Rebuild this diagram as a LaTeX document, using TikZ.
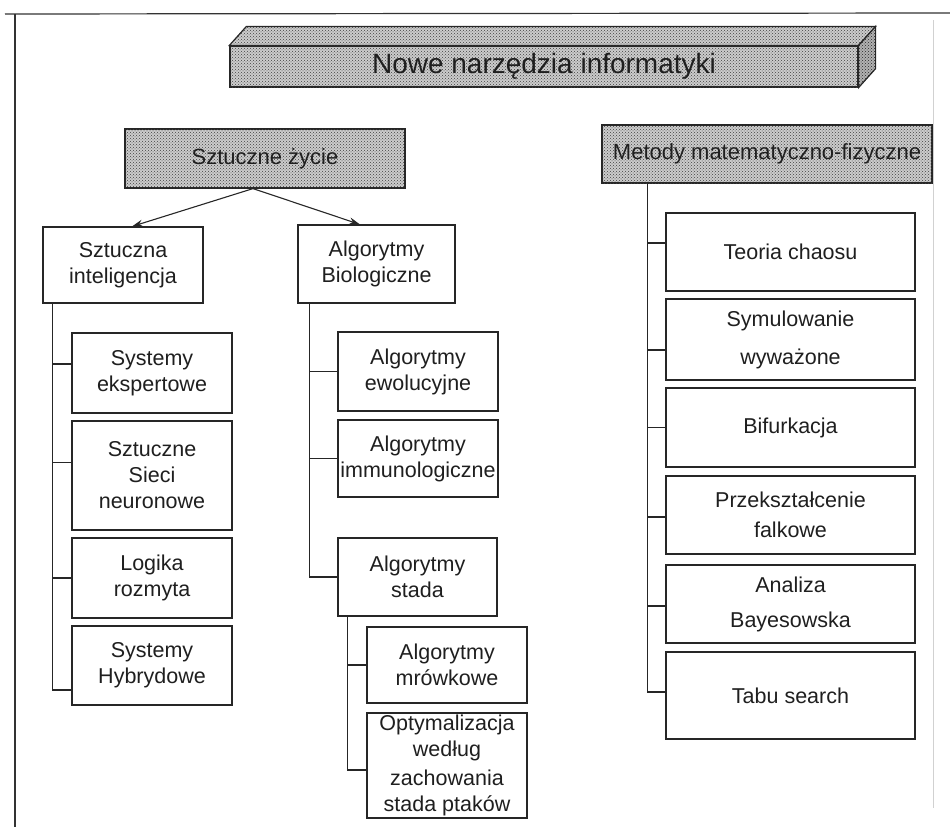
\documentclass[tikz,border=0pt]{standalone}
\usepackage{fontspec}
\setmainfont{Liberation Sans}
\usetikzlibrary{arrows.meta,patterns}
\begin{document}
\begin{tikzpicture}[x=1pt,y=-1pt,
  every node/.style={text=black!88},
  box/.style={draw=black!85, line width=1.1pt, fill=white, align=center,
    inner sep=0pt, font=\fontsize{21.5}{26}\selectfont},
  shaded/.style={draw=black!85, line width=1.2pt, fill=gray!40,
    postaction={pattern=crosshatch dots, pattern color=black!75},
    inner sep=0pt, font=\fontsize{22}{26}\selectfont},
  link/.style={draw=black!85, line width=1.1pt},
  arr/.style={link, -{Stealth[length=11pt,width=7pt]}},
  frame/.style={draw=black!80, line width=1.2pt}
]
\useasboundingbox (0,0) rectangle (950,827);

% page frame
\draw[frame] (5,14) -- (950,13);
\draw[frame] (15,14) -- (15,827);
\draw[black!18, line width=0.8pt] (933,20) -- (933,808);

% title bar drawn as a block
\node[shaded, minimum width=628pt, minimum height=41pt,
  font=\fontsize{28}{32}\selectfont] (title) at (544,66.5) {Nowe narzędzia informatyki};
\filldraw[draw=black!85, line width=1.2pt, fill=gray!40,
  postaction={pattern=crosshatch dots, pattern color=black!75}]
  (title.north west) -- ++(17,-19) -- ([shift={(17,-19)}]title.north east)
  -- (title.north east) -- cycle;
\filldraw[draw=black!85, line width=1.2pt, fill=gray!60,
  postaction={pattern=crosshatch dots, pattern color=black!85}]
  (title.north east) -- ++(17,-19) -- ([shift={(17,-19)}]title.south east)
  -- (title.south east) -- cycle;

% section headers
\node[shaded, minimum width=280pt, minimum height=59pt] (sz) at (265,158.5) {Sztuczne życie};
\node[shaded, minimum width=330pt, minimum height=58pt] (mm) at (767,154) {Metody matematyczno-fizyczne};

% left branch
\node[box, minimum width=160pt, minimum height=76pt] (si) at (123,265) {Sztuczna\\inteligencja};
\node[box, minimum width=160pt, minimum height=80pt] (se) at (152,373) {Systemy\\ekspertowe};
\node[box, minimum width=160pt, minimum height=109pt] (ssn) at (152,475.5) {Sztuczne\\Sieci\\neuronowe};
\node[box, minimum width=160pt, minimum height=80pt] (lr) at (152,578) {Logika\\rozmyta};
\node[box, minimum width=160pt, minimum height=79pt] (sh) at (152,665.5) {Systemy\\Hybrydowe};

% middle branch
\node[box, minimum width=157pt, minimum height=78pt] (ab) at (376.5,264) {Algorytmy\\Biologiczne};
\node[box, minimum width=160pt, minimum height=79pt] (ae) at (418,371.5) {Algorytmy\\ewolucyjne};
\node[box, minimum width=160pt, minimum height=77pt] (ai) at (418,458.5) {Algorytmy\\immunologiczne};
\node[box, minimum width=159pt, minimum height=78pt] (as) at (417.5,577) {Algorytmy\\stada};
\node[box, minimum width=160pt, minimum height=76pt] (am) at (447,665) {Algorytmy\\mrówkowe};
\node[box, minimum width=160pt, minimum height=105pt] (ao) at (447,765.5) {Optymalizacja\\według\\[3pt]zachowania\\stada ptaków};

% right branch
\node[box, minimum width=249pt, minimum height=78pt] (tc) at (790.5,252) {Teoria chaosu};
\node[box, minimum width=249pt, minimum height=81pt] (sw) at (790.5,339.5) {Symulowanie\\[12pt]wyważone};
\node[box, minimum width=249pt, minimum height=79pt] (bf) at (790.5,427.5) {Bifurkacja};
\node[box, minimum width=249pt, minimum height=78pt] (pf) at (790.5,515) {Przekształcenie\\[4pt]falkowe};
\node[box, minimum width=249pt, minimum height=78pt] (bay) at (790.5,604) {Analiza\\[9pt]Bayesowska};
\node[box, minimum width=249pt, minimum height=87pt] (ts) at (790.5,695.5) {Tabu search};

% arrows from the header
\draw[arr] ([xshift=-12pt]sz.south) -- ([xshift=9pt]si.north);
\draw[arr] ([xshift=-12pt]sz.south) -- ([xshift=-16.5pt]ab.north);

% left tree
\coordinate (tl) at ([xshift=10pt]si.south west);
\coordinate (se-in) at ([yshift=9pt]se.west);
\coordinate (ssn-in) at ([yshift=13pt]ssn.west);
\coordinate (lr-in) at (lr.west);
\coordinate (sh-in) at ([yshift=-24.5pt]sh.west);
\draw[link] (tl) |- (sh-in);
\draw[link] (tl |- se-in) -- (se-in);
\draw[link] (tl |- ssn-in) -- (ssn-in);
\draw[link] (tl |- lr-in) -- (lr-in);

% middle tree
\coordinate (tm) at ([xshift=12pt]ab.south west);
\coordinate (ae-in) at (ae.west);
\coordinate (ai-in) at (ai.west);
\coordinate (as-in) at (as.west);
\draw[link] (tm) |- (as-in);
\draw[link] (tm |- ae-in) -- (ae-in);
\draw[link] (tm |- ai-in) -- (ai-in);

\coordinate (ts2) at ([xshift=10pt]as.south west);
\coordinate (am-in) at (am.west);
\coordinate (ao-in) at ([yshift=-4.5pt]ao.west);
\draw[link] (ts2) |- (ao-in);
\draw[link] (ts2 |- am-in) -- (am-in);

% right tree
\coordinate (tr) at ([xshift=46pt]mm.south west);
\coordinate (tc-in) at ([yshift=9pt]tc.west);
\coordinate (sw-in) at ([yshift=-10.5pt]sw.west);
\coordinate (bf-in) at (bf.west);
\coordinate (pf-in) at ([yshift=-2pt]pf.west);
\coordinate (bay-in) at ([yshift=-2pt]bay.west);
\coordinate (ts-in) at ([yshift=3.5pt]ts.west);
\draw[link] (tr) |- (ts-in);
\draw[link] (tr |- tc-in) -- (tc-in);
\draw[link] (tr |- sw-in) -- (sw-in);
\draw[link] (tr |- bf-in) -- (bf-in);
\draw[link] (tr |- pf-in) -- (pf-in);
\draw[link] (tr |- bay-in) -- (bay-in);
\end{tikzpicture}
\end{document}
